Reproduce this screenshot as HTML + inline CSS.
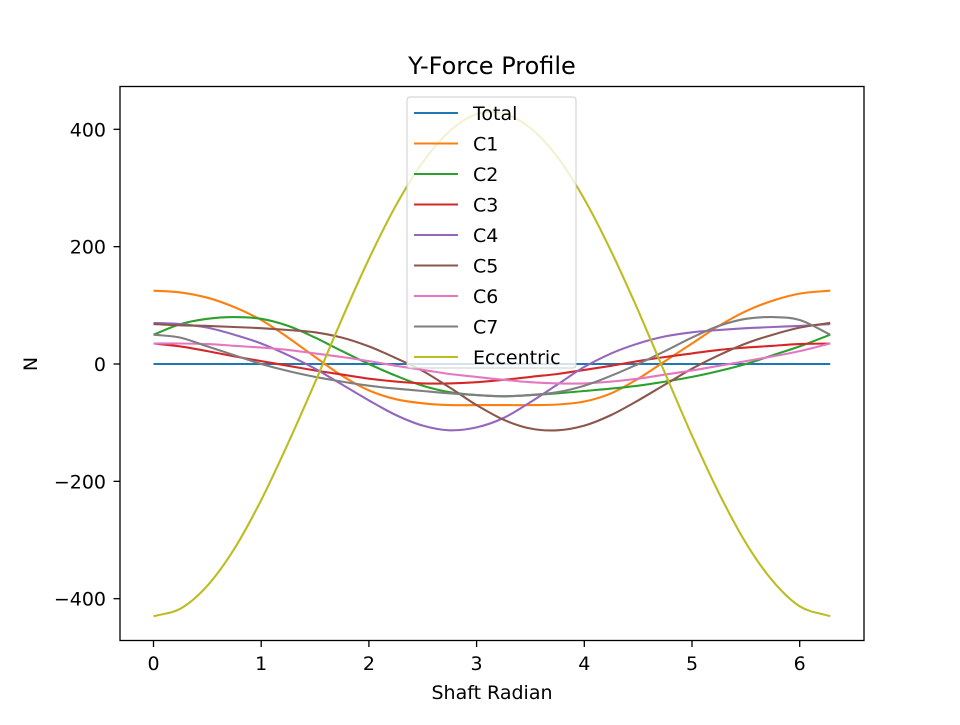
<!DOCTYPE html>
<html><head><meta charset="utf-8"><style>
html,body{margin:0;padding:0;background:#fff;}
svg text{font-family:"DejaVu Sans","Liberation Sans",sans-serif;fill:#000;}
</style></head><body>
<svg id="chart" width="960" height="720" viewBox="0 0 960 720" xmlns="http://www.w3.org/2000/svg">
<rect width="960" height="720" fill="#fff"/>
<text x="492" y="74" font-size="24" text-anchor="middle">Y-Force Profile</text>
<g id="series"></g>
<rect x="120" y="86.5" width="744" height="554" fill="none" stroke="#000" stroke-width="1.3"/>
<g id="axes"></g>
<text x="492" y="699" font-size="19" text-anchor="middle">Shaft Radian</text>
<text x="0" y="0" font-size="19" text-anchor="middle" transform="translate(37,364) rotate(-90)">N</text>
<g id="legend"></g>
</svg>
<script>
const xs = [0,0.25,0.5,0.75,1,1.25,1.5,1.75,2,2.25,2.5,2.75,3,3.25,3.5,3.75,4,4.25,4.5,4.75,5,5.25,5.5,5.75,6,6.283];
const seriesNames = ["Total","C1","C2","C3","C4","C5","C6","C7","Eccentric"];
const seriesColors = ["#1f77b4","#ff7f0e","#2ca02c","#d62728","#9467bd","#8c564b","#e377c2","#7f7f7f","#bcbd22"];
const total = [0,0,0,0,0,0,0,0,0,0,0,0,0,0,0,0,0,0,0,0,0,0,0,0,0,0];
const c1 = [125,122,113,97,75,45,12,-20,-45,-60,-67,-70,-70,-70,-70,-69,-64,-50,-25,5,35,65,90,108,120,125];
const c2 = [50,68,77,80,77,65,45,22,0,-20,-37,-48,-53,-55,-53,-50,-46,-42,-37,-30,-22,-12,0,15,30,50];
const c3 = [35,30,22,13,5,-3,-11,-18,-25,-30,-33,-33,-31,-27,-22,-17,-10,-3,5,12,18,24,28,31,34,35];
const c4 = [70,68,62,50,35,15,-8,-35,-62,-87,-105,-113,-108,-92,-65,-35,-5,18,35,47,54,58,61,63,65,68];
const c5 = [68,66,65,63,61,58,54,45,30,10,-12,-40,-70,-95,-110,-113,-105,-87,-62,-35,-8,15,35,50,62,70];
const c6 = [35,35,34,31,28,24,18,12,5,-3,-10,-17,-22,-27,-31,-33,-33,-30,-25,-18,-11,-3,5,13,22,35];
const c7 = [50,45,30,15,0,-12,-22,-30,-37,-42,-46,-50,-53,-55,-53,-48,-37,-20,0,22,45,65,77,80,75,50];
const eccentric = [-430,-417,-378,-315,-232,-135,-31,77,179,270,344,397,426,427,402,353,281,192,91,-16,-122,-220,-305,-370,-413,-430];
const xTicks = [0,1,2,3,4,5,6];
const yTicks = [-400,-200,0,200,400];
const yTickLabels = ["\u2212400","\u2212200","0","200","400"];

const NS="http://www.w3.org/2000/svg";
function X(v){return 153.5+v*107.7;}
function Y(v){return 364-v*0.5867;}
function smoothPath(pts){
  let d='M'+pts[0][0].toFixed(1)+','+pts[0][1].toFixed(1);
  for(let i=0;i<pts.length-1;i++){
    const p0=pts[Math.max(0,i-1)],p1=pts[i],p2=pts[i+1],p3=pts[Math.min(pts.length-1,i+2)];
    const h=(p2[0]-p1[0]);
    const s1=(p2[1]-p0[1])/(p2[0]-p0[0]||1), s2=(p3[1]-p1[1])/(p3[0]-p1[0]||1);
    d+=' C'+(p1[0]+h/3).toFixed(1)+','+(p1[1]+s1*h/3).toFixed(1)+' '+(p2[0]-h/3).toFixed(1)+','+(p2[1]-s2*h/3).toFixed(1)+' '+p2[0].toFixed(1)+','+p2[1].toFixed(1);
  }
  return d;
}
const allSeries=[total,c1,c2,c3,c4,c5,c6,c7,eccentric];
const sg=document.getElementById('series');
allSeries.forEach((s,k)=>{
  const p=document.createElementNS(NS,'path');
  p.setAttribute('d',smoothPath(s.map((v,i)=>[X(xs[i]),Y(v)])));
  p.setAttribute('fill','none');p.setAttribute('stroke',seriesColors[k]);p.setAttribute('stroke-width','2.1');
  
  
  sg.appendChild(p);
});
const ax=document.getElementById('axes');
xTicks.forEach(t=>{
  const l=document.createElementNS(NS,'line');
  l.setAttribute('x1',X(t));l.setAttribute('x2',X(t));l.setAttribute('y1',640.5);l.setAttribute('y2',647);l.setAttribute('stroke','#000');l.setAttribute('stroke-width','1.3');
  
  
  ax.appendChild(l);
  const tx=document.createElementNS(NS,'text');
  tx.setAttribute('x',X(t));tx.setAttribute('y',670);tx.setAttribute('font-size','19');tx.setAttribute('text-anchor','middle');
  tx.textContent=String(t);
  
  
  ax.appendChild(tx);
});
yTicks.forEach((t,i)=>{
  const l=document.createElementNS(NS,'line');
  l.setAttribute('x1',113.5);l.setAttribute('x2',120);l.setAttribute('y1',Y(t));l.setAttribute('y2',Y(t));l.setAttribute('stroke','#000');l.setAttribute('stroke-width','1.3');
  
  
  ax.appendChild(l);
  const tx=document.createElementNS(NS,'text');
  tx.setAttribute('x',106);tx.setAttribute('y',Y(t)+7);tx.setAttribute('font-size','19');tx.setAttribute('text-anchor','end');
  tx.textContent=yTickLabels[i];
  
  
  ax.appendChild(tx);
});
const lg=document.getElementById('legend');
const box=document.createElementNS(NS,'rect');
box.setAttribute('x',407);box.setAttribute('y',97);box.setAttribute('width',169);box.setAttribute('height',271);box.setAttribute('rx',3);
box.setAttribute('fill','rgba(255,255,255,0.8)');box.setAttribute('stroke','#ccc');


lg.appendChild(box);
seriesNames.forEach((n,k)=>{
  const yy=113+k*30.5;
  const l=document.createElementNS(NS,'line');
  l.setAttribute('x1',414);l.setAttribute('x2',458);l.setAttribute('y1',yy);l.setAttribute('y2',yy);
  l.setAttribute('stroke',seriesColors[k]);l.setAttribute('stroke-width','2.1');
  
  
  lg.appendChild(l);
  const tx=document.createElementNS(NS,'text');
  tx.setAttribute('x',473);tx.setAttribute('y',yy+7);tx.setAttribute('font-size','19');
  tx.textContent=n;
  
  
  lg.appendChild(tx);
});
</script>
</body></html>
